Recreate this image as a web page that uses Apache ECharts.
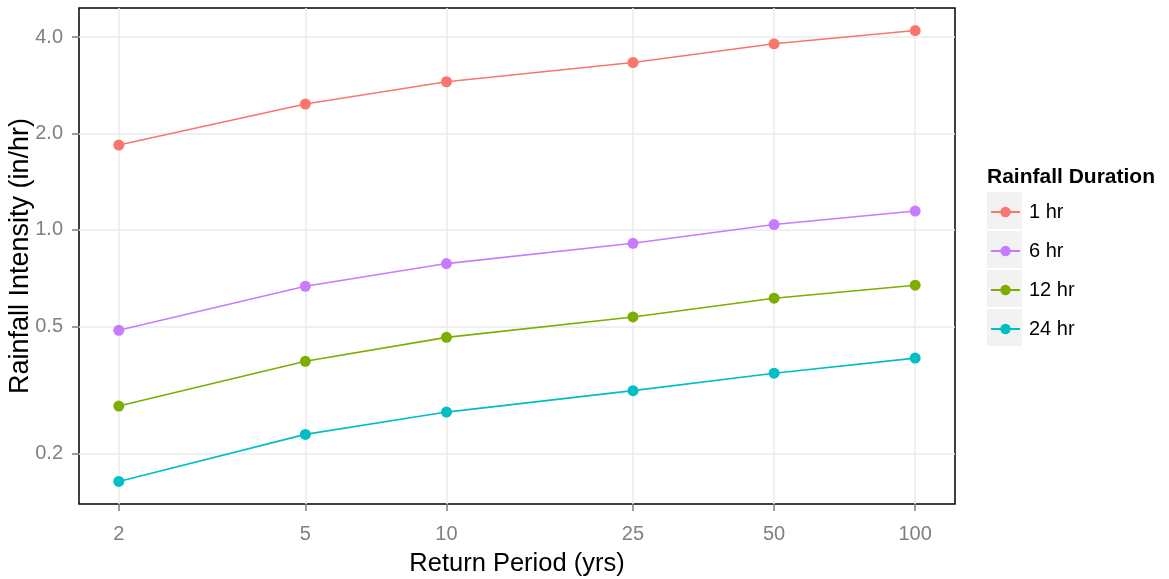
<!DOCTYPE html>
<html>
<head>
<meta charset="utf-8">
<script src="https://cdn.jsdelivr.net/npm/echarts@6/dist/echarts.min.js"></script>
<style>
html,body{margin:0;padding:0;background:#fff;}
#chart{width:1169px;height:579px;}
</style>
</head>
<body>
<div id="chart"></div>
<script>
const returnPeriods = [2, 5, 10, 25, 50, 100];
const seriesNames = ['1 hr', '6 hr', '12 hr', '24 hr'];
const int1hr  = [1.84, 2.47, 2.90, 3.33, 3.81, 4.19];
const int6hr  = [0.486, 0.667, 0.785, 0.908, 1.039, 1.145];
const int12hr = [0.282, 0.389, 0.462, 0.535, 0.612, 0.672];
const int24hr = [0.164, 0.230, 0.270, 0.315, 0.357, 0.398];
const yTicks = [0.2, 0.5, 1.0, 2.0, 4.0];
const xTicks = [2, 5, 10, 25, 50, 100];
const colors = ['#F8766D', '#C77CFF', '#7CAE00', '#00BFC4'];

const allSeries = [int1hr, int6hr, int12hr, int24hr];

function logExpand(lo, hi, frac) {
  const span = Math.log10(hi / lo) * frac;
  return [lo / Math.pow(10, span), hi * Math.pow(10, span)];
}
const allY = allSeries.flat();
const yRange = logExpand(Math.min(...allY), Math.max(...allY), 0.05);
const xRange = logExpand(Math.min(...returnPeriods), Math.max(...returnPeriods), 0.05);

const chart = echarts.init(document.getElementById('chart'), null, {renderer: 'canvas'});
const font = '"Liberation Sans", Arial, Helvetica, sans-serif';

const legendTop = 192, legendPitch = 39, iconH = 13, legendTextH = 20;
const keyRects = seriesNames.map((n, i) => ({
  type: 'rect',
  left: 987, top: legendTop + i * legendPitch,
  shape: {width: 35, height: 37},
  style: {fill: '#F2F2F2'},
  z: 0
}));

const option = {
  backgroundColor: '#fff',
  animation: false,
  color: colors,
  textStyle: {fontFamily: font},
  grid: {left: 79, right: 214, top: 8, bottom: 75, show: true, borderColor: '#000', borderWidth: 1.5,
    backgroundColor: '#fff', z: 0, containLabel: false, outerBoundsMode: 'none'},
  title: {
    text: 'Rainfall Duration', left: 982, top: 162,
    textStyle: {fontFamily: font, fontSize: 21, fontWeight: 'bold', color: '#000'}
  },
  legend: {
    orient: 'vertical', left: 985, top: 197,
    itemWidth: 29, itemHeight: iconH, itemGap: legendPitch - legendTextH,
    data: seriesNames,
    textStyle: {fontFamily: font, fontSize: 20, color: '#000', padding: [0, 0, 0, 4]},
    z: 5
  },
  graphic: keyRects,
  xAxis: {
    type: 'log', logBase: 10,
    min: xRange[0], max: xRange[1],
    name: 'Return Period (yrs)', nameLocation: 'middle', nameGap: 47, nameMoveOverlap: false,
    nameTextStyle: {fontFamily: font, fontSize: 25.5, color: '#000'},
    axisLine: {show: false},
    axisTick: {show: true, length: 7, lineStyle: {color: '#7f7f7f', width: 1.5}, customValues: xTicks},
    axisLabel: {customValues: xTicks, margin: 20, fontSize: 20, color: '#808080', fontFamily: font,
      formatter: v => String(Math.round(v))},
    splitLine: {show: true, lineStyle: {color: '#EBEBEB', width: 1.5}},
    minorTick: {show: false}, minorSplitLine: {show: false}
  },
  yAxis: {
    type: 'log', logBase: 10,
    min: yRange[0], max: yRange[1],
    name: 'Rainfall Intensity (in/hr)', nameLocation: 'middle', nameGap: 45, nameMoveOverlap: false,
    nameTextStyle: {fontFamily: font, fontSize: 27, color: '#000'},
    axisLine: {show: false},
    axisTick: {show: true, length: 7, lineStyle: {color: '#7f7f7f', width: 1.5}, customValues: yTicks},
    axisLabel: {customValues: yTicks, margin: 16, fontSize: 20, color: '#808080', fontFamily: font,
      formatter: v => Number(v).toFixed(1)},
    splitLine: {show: true, lineStyle: {color: '#EBEBEB', width: 1.5}},
    minorTick: {show: false}, minorSplitLine: {show: false}
  },
  series: allSeries.map((vals, i) => ({
    name: seriesNames[i],
    type: 'line',
    data: returnPeriods.map((x, j) => [x, vals[j]]),
    symbol: 'circle', symbolSize: 11,
    lineStyle: {width: 1.6, color: colors[i]},
    itemStyle: {color: colors[i]},
    z: 3
  }))
};
chart.setOption(option);
</script>
</body>
</html>
